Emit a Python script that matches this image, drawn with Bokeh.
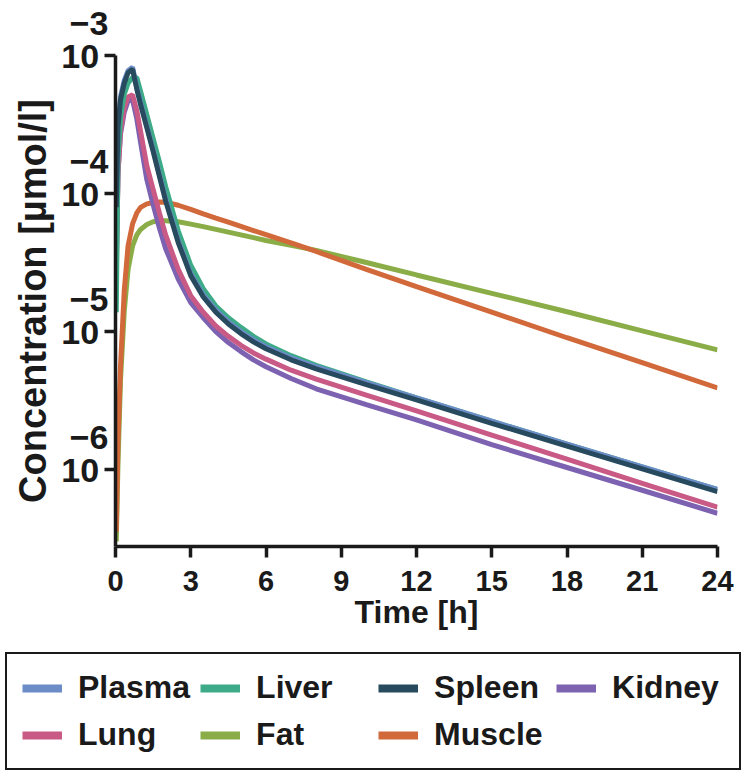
from bokeh.plotting import figure
from bokeh.models import (Range1d, FixedTicker, Legend, LegendItem,
                          PrintfTickFormatter)
from bokeh.embed import file_html
from bokeh.resources import INLINE

# ---- data (concentrations as log10 of µmol/l) ----
time_h = [0.03, 0.1, 0.2, 0.35, 0.5, 0.68, 0.85, 1.0, 1.25, 1.5, 1.75, 2.0, 2.5,
          3.0, 3.5, 4.0, 4.5, 5.0, 5.5, 6.0, 7.0, 8.0, 10.0, 12.0, 15.0, 18.0, 21.0, 24.0]

plasma_log10 = [-4.08, -3.50, -3.30, -3.18, -3.11, -3.085, -3.23, -3.34, -3.51, -3.68,
                -3.86, -4.04, -4.34, -4.58, -4.735, -4.845, -4.93, -5.00, -5.06, -5.11,
                -5.19, -5.255, -5.37, -5.48, -5.65, -5.815, -5.98, -6.145]
spleen_log10 = [-4.10, -3.52, -3.32, -3.20, -3.125, -3.10, -3.245, -3.355, -3.525, -3.695,
                -3.875, -4.055, -4.355, -4.595, -4.75, -4.86, -4.945, -5.015, -5.075,
                -5.125, -5.205, -5.27, -5.385, -5.495, -5.665, -5.83, -5.995, -6.16]
liver_log10 = [-4.86, -3.75, -3.45, -3.28, -3.20, -3.16, -3.16, -3.26, -3.43, -3.60,
               -3.77, -3.95, -4.27, -4.52, -4.69, -4.815, -4.90, -4.97, -5.035, -5.09,
               -5.175, -5.245, -5.365, -5.48, -5.65, -5.815, -5.98, -6.145]
kidney_log10 = [-4.50, -3.85, -3.57, -3.41, -3.33, -3.32, -3.46, -3.63, -3.90, -4.08,
                -4.25, -4.40, -4.62, -4.79, -4.90, -5.00, -5.08, -5.145, -5.205, -5.255,
                -5.34, -5.415, -5.53, -5.64, -5.82, -5.985, -6.15, -6.317]
lung_log10 = [-4.59, -3.85, -3.55, -3.38, -3.30, -3.285, -3.40, -3.55, -3.80, -3.97,
              -4.14, -4.30, -4.55, -4.74, -4.86, -4.96, -5.035, -5.10, -5.155, -5.20,
              -5.28, -5.345, -5.46, -5.575, -5.75, -5.925, -6.10, -6.273]
fat_log10 = [-6.52, -5.95, -5.35, -4.85, -4.55, -4.38, -4.30, -4.26, -4.225, -4.205,
             -4.198, -4.197, -4.205, -4.222, -4.24, -4.26, -4.28, -4.30, -4.32, -4.34,
             -4.375, -4.412, -4.50, -4.59, -4.723, -4.857, -4.995, -5.133]
muscle_log10 = [-6.45, -5.80, -5.25, -4.70, -4.38, -4.22, -4.14, -4.10, -4.075, -4.065,
                -4.062, -4.063, -4.085, -4.115, -4.147, -4.178, -4.208, -4.238, -4.268,
                -4.298, -4.358, -4.42, -4.55, -4.675, -4.86, -5.045, -5.225, -5.408]

series_names = ["Plasma", "Liver", "Spleen", "Kidney", "Lung", "Fat", "Muscle"]
series_colors = ["#6b8cc7", "#3dab87", "#274a5e", "#7c62b0", "#c95a86", "#8aad48", "#d2693a"]
series_log10 = [plasma_log10, liver_log10, spleen_log10, kidney_log10, lung_log10,
                fat_log10, muscle_log10]
draw_order = ["Fat", "Muscle", "Kidney", "Lung", "Liver", "Plasma", "Spleen"]

x_ticks = [0, 3, 6, 9, 12, 15, 18, 21, 24]
y_ticks = [1e-6, 1e-5, 1e-4, 1e-3]
y_tick_exponents = ["−6", "−5", "−4", "−3"]

FONT = "Liberation Sans"
INK = "#1a1a1a"
Y_MIN, Y_MAX = 2.77e-7, 1e-3

p = figure(frame_width=602, frame_height=491, y_axis_type="log",
           x_range=Range1d(0, 24), y_range=Range1d(Y_MIN, Y_MAX),
           output_backend="svg", toolbar_location=None,
           min_border_left=115, min_border_top=55, min_border_right=31,
           min_border_bottom=100)
p.outline_line_color = None
p.xgrid.visible = False
p.ygrid.visible = False
p.background_fill_color = "white"
p.border_fill_color = "white"

for name in draw_order:
    i = series_names.index(name)
    conc = [10 ** v for v in series_log10[i]]
    p.line(time_h, conc, line_color=series_colors[i], line_width=5)

# axes
for ax in (p.xaxis[0], p.yaxis[0]):
    ax.axis_line_width = 3.5
    ax.axis_line_color = INK
    ax.major_tick_line_width = 3.5
    ax.major_tick_line_color = INK
    ax.major_tick_out = 11
    ax.major_tick_in = 0
    ax.minor_tick_line_color = None
    ax.axis_label_text_font = FONT
    ax.axis_label_text_font_style = "bold"
    ax.axis_label_text_color = INK
    ax.major_label_text_font = FONT
    ax.major_label_text_font_style = "bold"
    ax.major_label_text_color = INK

p.xaxis.ticker = FixedTicker(ticks=x_ticks)
p.xaxis.major_label_text_font_size = "29px"
p.xaxis.major_label_standoff = 13
p.xaxis.axis_label = "Time [h]"
p.xaxis.axis_label_text_font_size = "32px"
p.xaxis.axis_label_standoff = 0

# power-of-ten labels: exponent on a line above the "10"
p.yaxis.ticker = FixedTicker(ticks=y_ticks)
p.yaxis.formatter = PrintfTickFormatter(format="%.0e")
p.yaxis.major_label_overrides = {v: f"{ex}\n10 \n " for v, ex in zip(y_ticks, y_tick_exponents)}
p.yaxis.major_label_text_font_size = "34px"
p.yaxis.major_label_text_line_height = 0.85
p.yaxis.major_label_standoff = -4
p.yaxis.axis_label = "Concentration [µmol/l]"
p.yaxis.axis_label_text_font_size = "38px"
p.yaxis.axis_label_standoff = 4

# ---- legend panel below the chart (its own small canvas) ----
leg_fig = figure(width=748, height=131, x_range=Range1d(100, 101), y_range=Range1d(100, 101),
                 output_backend="svg", toolbar_location=None,
                 x_axis_location=None, y_axis_location=None, min_border=0)
leg_fig.outline_line_color = None
leg_fig.xgrid.visible = False
leg_fig.ygrid.visible = False
leg_items = []
for n, c, logs in zip(series_names, series_colors, series_log10):
    # same series, outside this canvas' view: only their legend keys show
    key = leg_fig.line(time_h, logs, line_color=c, line_width=8)
    leg_items.append(LegendItem(label=n, renderers=[key]))

legend = Legend(
    items=leg_items, orientation="horizontal", ncols=4, location=(5, 7),
    border_line_color=INK, border_line_width=2.5, border_line_alpha=1.0,
    label_text_font=FONT, label_text_font_style="bold", label_text_font_size="32px",
    label_text_color=INK, glyph_width=40, glyph_height=20, label_standoff=16,
    spacing=10, padding=15, margin=0, label_width=112,
    background_fill_color="white", background_fill_alpha=1.0,
)
leg_fig.add_layout(legend, "center")

open("out.html", "w").write(file_html((p, leg_fig), INLINE))
